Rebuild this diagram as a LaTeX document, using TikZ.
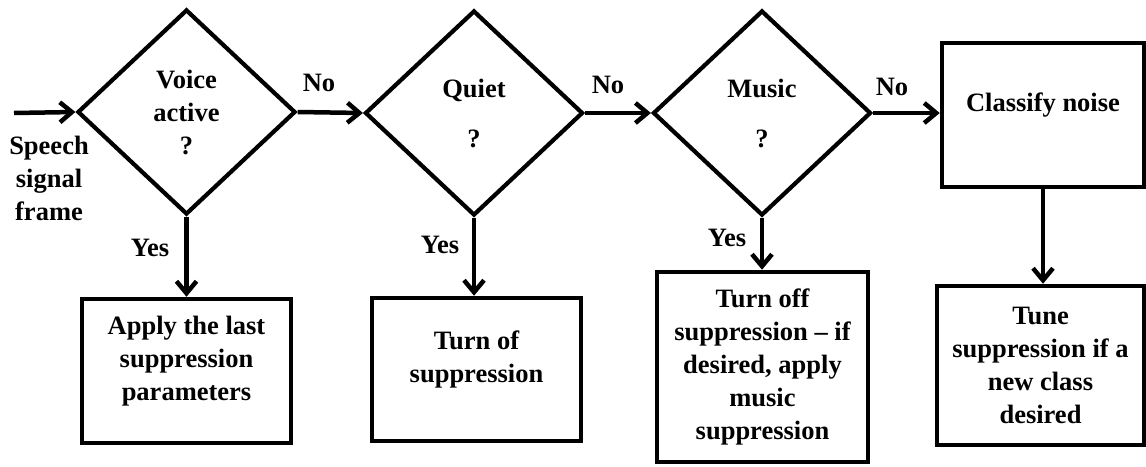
\documentclass[tikz,border=0pt]{standalone}
\usepackage{fontspec}
\setmainfont{Liberation Serif}
\usetikzlibrary{shapes.geometric,arrows.meta}
\begin{document}
\begin{tikzpicture}[x=1pt,y=-1pt,
  every node/.style={font=\fontsize{26.5}{33}\selectfont\bfseries, align=center, inner sep=0pt},
  dec/.style={draw, shape=diamond, line width=4.2pt, minimum width=218pt, minimum height=205pt, inner sep=0pt},
  proc/.style={draw, rectangle, line width=4.5pt},
  arr/.style={line width=4.5pt, -{Straight Barb[length=12pt,width=20pt]}}]
\useasboundingbox[fill=white] (0,0) rectangle (1146,466);
% decisions
\node[dec] (d1) at (186.5,112) {\fontsize{26.5}{30}\selectfont Voice\\active\\?};
\node[dec] (d2) at (474,113) {Quiet\\[17pt]?};
\node[dec] (d3) at (762,113) {Music\\[17pt]?};
% process boxes
\node[proc, minimum width=202pt, minimum height=144pt] (cl) at (1043,115) {Classify noise\\[-8pt]\mbox{}};
\node[proc, minimum width=209pt, minimum height=144pt] (b1) at (186.5,371) {Apply the last\\suppression\\parameters\\[-8pt]\mbox{}};
\node[proc, minimum width=209pt, minimum height=143pt] (b2) at (476.5,369.5) {Turn of\\suppression\\[-8pt]\mbox{}};
\node[proc, minimum width=211pt, minimum height=190pt] (b3) at (762.5,367) {Turn off\\suppression -- if\\desired, apply\\music\\suppression};
\node[proc, minimum width=207pt, minimum height=159pt] (b4) at (1040.5,365.5) {Tune\\suppression if a\\new class\\desired};
% input
\coordinate (in) at (14,113);
\node (sp) at (49,178) {Speech\\signal\\frame};
% connectors
\draw[arr] (in) -- (d1.west);
\draw[arr] (d1.east) -- (d2.west);
\draw[arr] (d2.east) -- (d3.west);
\draw[arr] (d3.east) -- (d3.east -| cl.west);
\draw[arr] (d1.south) -- (d1.south |- b1.north);
\draw[arr] (d2.south) -- (d2.south |- b2.north);
\draw[arr] (d3.south) -- (d3.south |- b3.north);
\draw[arr] (cl.south) -- (cl.south |- b4.north);
% labels
\node (no1) at (319,83) {No};
\node (no2) at (608,85) {No};
\node (no3) at (892,87) {No};
\node (y1) at (150,248) {Yes};
\node (y2) at (440,245) {Yes};
\node (y3) at (727,238) {Yes};
\end{tikzpicture}
\end{document}
